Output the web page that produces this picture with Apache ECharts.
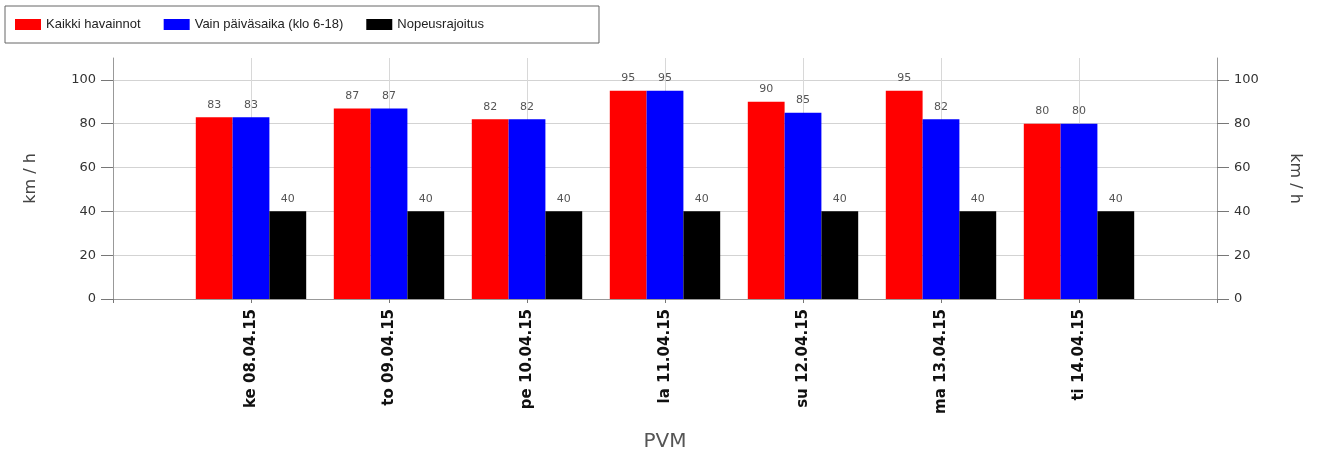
<!DOCTYPE html>
<html>
<head>
<meta charset="utf-8">
<script src="https://cdn.jsdelivr.net/npm/echarts@6/dist/echarts.min.js"></script>
<style>
html,body{margin:0;padding:0;background:#fff;}
#chart{width:1321px;height:452px;}
</style>
</head>
<body>
<div id="chart"></div>
<script>
const categories = ['ke 08.04.15','to 09.04.15','pe 10.04.15','la 11.04.15','su 12.04.15','ma 13.04.15','ti 14.04.15'];
const kaikki = [83, 87, 82, 95, 90, 95, 80];
const paivasaika = [83, 87, 82, 95, 85, 82, 80];
const nopeusrajoitus = [40, 40, 40, 40, 40, 40, 40];
const yTicks = [0, 20, 40, 60, 80, 100];
const seriesNames = ['Kaikki havainnot', 'Vain päiväsaika (klo 6-18)', 'Nopeusrajoitus'];
const colors = ['#ff0000', '#0000ff', '#000000'];

// pad with an empty slot at each end so the bars sit half a band in from the axes
const pad = arr => [null, ...arr, null];
const cats = ['', ...categories, ''];

const arial = 'Arial, "Liberation Sans", sans-serif';
const dejavu = '"DejaVu Sans", Verdana, sans-serif';
const chart = echarts.init(document.getElementById('chart'), null, {renderer: 'canvas'});

const yAxisCommon = {
  type: 'value', min: 0, max: 110, interval: 20,
  axisLine: {show: true, lineStyle: {color: '#999', width: 1}},
  axisTick: {show: true, length: 12, customValues: yTicks, lineStyle: {color: '#777'}},
  axisLabel: {customValues: yTicks, color: '#333', fontSize: 13, fontFamily: dejavu, margin: 17},
  name: 'km / h', nameLocation: 'middle',
  nameTextStyle: {color: '#444', fontSize: 16, fontFamily: dejavu}
};

chart.setOption({
  animation: false,
  color: colors,
  textStyle: {fontFamily: arial},
  legend: {
    left: 5, top: 6,
    padding: [12, 115, 12, 10],
    itemGap: 23, itemWidth: 26, itemHeight: 11,
    borderColor: '#666', borderWidth: 1,
    icon: 'rect',
    textStyle: {color: '#222', fontSize: 13, fontFamily: arial},
    data: seriesNames
  },
  grid: {left: 113, right: 104, top: 58, bottom: 153, outerBoundsMode: 'none', containLabel: false},
  xAxis: {
    type: 'category', data: cats, boundaryGap: false,
    axisLine: {show: true, lineStyle: {color: '#999'}},
    axisTick: {show: true, length: 4, lineStyle: {color: '#777'}},
    splitLine: {show: true, lineStyle: {color: '#d8d8d8'}},
    axisLabel: {rotate: 90, color: '#111', fontSize: 15, fontWeight: 'bold', fontFamily: dejavu, margin: 10, interval: 0},
    name: 'PVM', nameLocation: 'middle', nameGap: 133,
    nameTextStyle: {color: '#555', fontSize: 20, fontFamily: dejavu}
  },
  yAxis: [
    Object.assign({}, yAxisCommon, {position: 'left', nameGap: 74, nameRotate: 90,
      splitLine: {show: true, lineStyle: {color: '#d3d3d3'}}}),
    Object.assign({}, yAxisCommon, {position: 'right', nameGap: 70, nameRotate: -90,
      splitLine: {show: false}})
  ],
  series: [kaikki, paivasaika, nopeusrajoitus].map((d, i) => ({
    name: seriesNames[i], type: 'bar', data: pad(d),
    barGap: '0%', barCategoryGap: '20%',
    label: {show: true, position: 'top', distance: 7, color: '#555', fontSize: 11, fontFamily: dejavu}
  }))
});
</script>
</body>
</html>
